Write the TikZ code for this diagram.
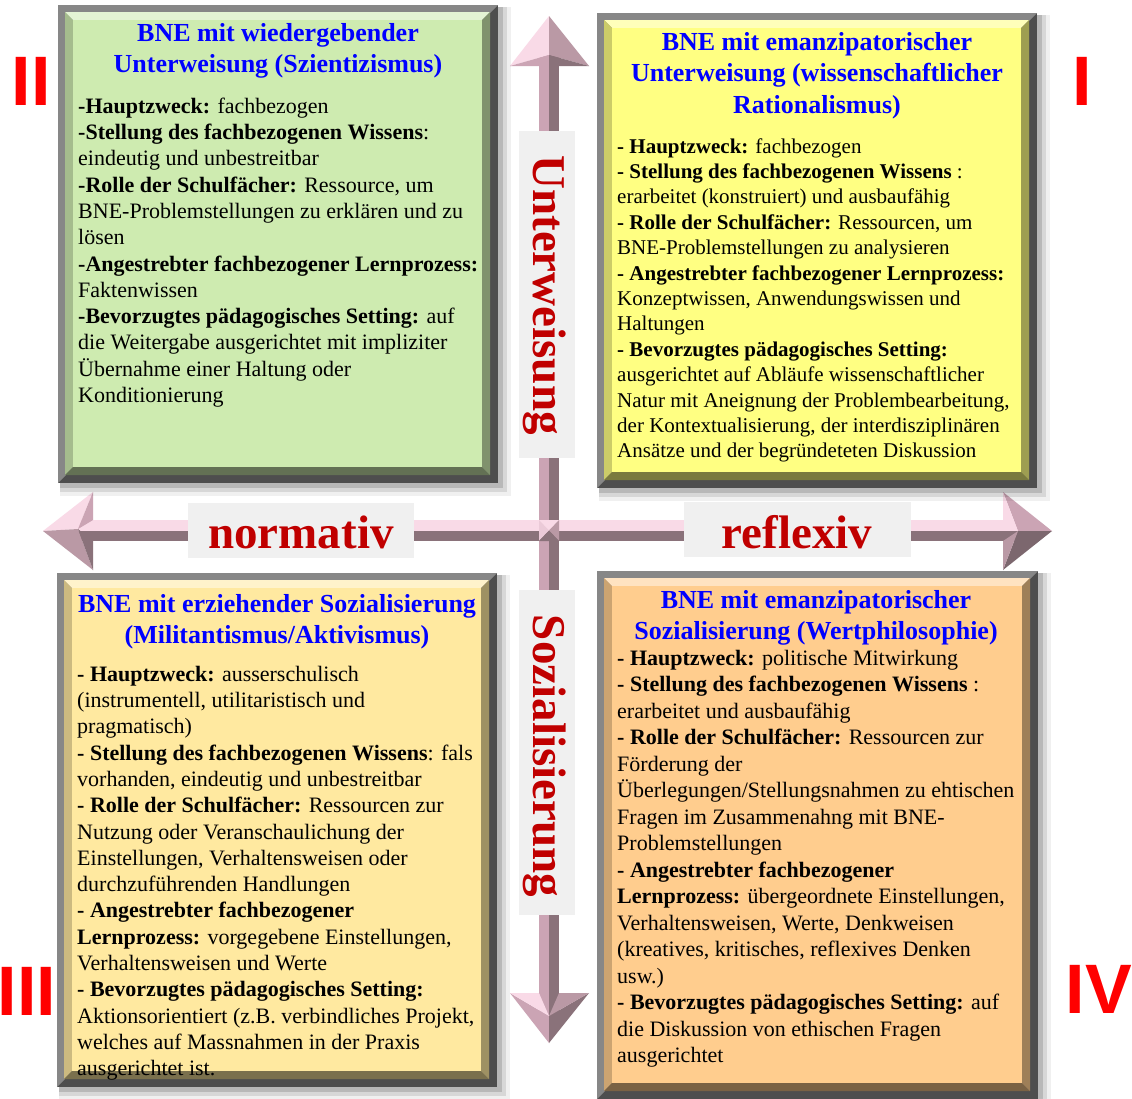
\documentclass[tikz,border=0pt]{standalone}
\usepackage{fontspec}
\setmainfont{Liberation Serif}
\newfontfamily\numfont{Liberation Sans}
\definecolor{framelight}{RGB}{135,135,135}
\definecolor{framedark}{RGB}{78,78,78}
\definecolor{fillII}{RGB}{206,235,176}
\definecolor{fillI}{RGB}{255,255,130}
\definecolor{fillIII}{RGB}{255,233,160}
\definecolor{fillIV}{RGB}{255,205,142}
\definecolor{titleblue}{RGB}{0,0,255}
\definecolor{labred}{RGB}{192,0,0}
\definecolor{numred}{RGB}{255,0,0}
\definecolor{labgray}{RGB}{240,240,240}
\definecolor{apink}{RGB}{249,218,231}
\definecolor{amauve}{RGB}{203,164,180}
\definecolor{amid}{RGB}{186,153,165}
\definecolor{adark}{RGB}{138,114,122}
\newcommand{\bevbox}[5]{%
  \fill[black,opacity=0.06] ({#1+2},{#2+2}) rectangle ({#3+13},{#4+13});
  \fill[black,opacity=0.10] ({#1+2},{#2+2}) rectangle ({#3+9},{#4+9});
  \fill[black,opacity=0.14] ({#1+2},{#2+2}) rectangle ({#3+5},{#4+5});
  \fill[framedark] (#1,#2) rectangle (#3,#4);
  \fill[framelight] (#1,#4) -- (#1,#2) -- (#3,#2) -- ({#3-8},{#2+8}) -- ({#1+8},{#4-8}) -- cycle;
  \fill[#5!55!white] ({#1+7},{#2+7}) -- ({#3-8},{#2+7}) -- ({#3-16},{#2+15}) -- ({#1+15},{#2+15}) -- cycle;
  \fill[#5!80!black] ({#1+7},{#2+7}) -- ({#1+15},{#2+15}) -- ({#1+15},{#4-16}) -- ({#1+7},{#4-8}) -- cycle;
  \fill[#5!48!black] ({#1+7},{#4-8}) -- ({#1+15},{#4-16}) -- ({#3-16},{#4-16}) -- ({#3-8},{#4-8}) -- cycle;
  \fill[#5!62!black] ({#3-8},{#2+7}) -- ({#3-8},{#4-8}) -- ({#3-16},{#4-16}) -- ({#3-16},{#2+15}) -- cycle;
  \fill[#5] ({#1+15},{#2+15}) rectangle ({#3-16},{#4-16});
}
\begin{document}
\begin{tikzpicture}[x=1pt,y=-1pt,
  title/.style={anchor=north,align=center,inner sep=0pt,text=titleblue,
    font=\fontsize{26}{31.5}\selectfont\bfseries},
  body/.style={anchor=north west,align=left,inner sep=0pt,text=black,
    font=\fontsize{22}{26.3}\selectfont},
  bodyI/.style={anchor=north west,align=left,inner sep=0pt,text=black,
    font=\fontsize{21}{25.4}\selectfont},
  bodyIV/.style={anchor=north west,align=left,inner sep=0pt,text=black,
    font=\fontsize{22}{26.5}\selectfont},
  axislab/.style={inner sep=0pt,text=labred,font=\fontsize{47}{56}\selectfont\bfseries},
  labbox/.style={fill=labgray},
  roman/.style={anchor=base,inner sep=0pt,text=numred,font=\numfont\fontsize{70}{84}\selectfont\bfseries}]
\useasboundingbox (0,0) rectangle (1132,1098);
\fill[white] (0,0) rectangle (1132,1098);

% ---- axes (3D arrows) ----
% horizontal shaft
\fill[apink] (78,520) rectangle (1018,530.5);
\fill[adark] (78,530.5) rectangle (1018,541);
% vertical shaft
\fill[amauve] (539,55) rectangle (549,520);
\fill[adark] (549,55) rectangle (559,520);
\fill[amauve] (539,541) rectangle (549,1016);
\fill[adark] (549,541) rectangle (559,1016);
% crossing
\fill[apink] (539,520) -- (559,520) -- (549,530.5) -- cycle;
\fill[apink!70!amauve] (539,520) -- (549,530.5) -- (539,541) -- cycle;
\fill[amid] (559,520) -- (549,530.5) -- (559,541) -- cycle;
\fill[adark] (539,541) -- (549,530.5) -- (559,541) -- cycle;
% top head
\fill[apink] (549,16) -- (510,66) -- (549,55) -- cycle;
\fill[amid] (549,16) -- (549,55) -- (589,66) -- cycle;
\fill[amauve] (510,66) -- (539,66) -- (549,55) -- cycle;
\fill[adark] (589,66) -- (559,66) -- (549,55) -- cycle;
% bottom head
\fill[amauve] (510,993) -- (549,1016) -- (549,1043) -- cycle;
\fill[adark] (589,993) -- (549,1016) -- (549,1043) -- cycle;
\fill[apink] (510,993) -- (539,993) -- (549,1016) -- cycle;
\fill[amid] (589,993) -- (559,993) -- (549,1016) -- cycle;
% left head
\fill[apink] (43,531) -- (93,492) -- (78,529) -- cycle;
\fill[amid] (43,531) -- (78,529) -- (93,570) -- cycle;
\fill[amauve] (93,492) -- (93,520) -- (78,529) -- cycle;
\fill[adark] (93,570) -- (93,541) -- (78,529) -- cycle;
% right head
\fill[amauve] (1003,492) -- (1052,531) -- (1018,531) -- cycle;
\fill[adark!90!black] (1003,570) -- (1052,531) -- (1018,531) -- cycle;
\fill[apink] (1003,492) -- (1003,520) -- (1018,531) -- cycle;
\fill[amid] (1003,570) -- (1003,541) -- (1018,531) -- cycle;

% ---- axis labels ----
\fill[labgray] (188,503) rectangle (414,558);
\node[axislab,anchor=base] (normativ) at (301,548) {normativ};
\fill[labgray] (684,502) rectangle (911,557);
\node[axislab,anchor=base] (reflexiv) at (797,548) {reflexiv};
\fill[labgray] (519,131) rectangle (575,458);
\node[axislab,rotate=-90] (unterw) at (545,295) {Unterweisung};
\fill[labgray] (519,590) rectangle (575,915);
\node[axislab,rotate=-90] (sozial) at (545,756) {Sozialisierung};

% ---- boxes ----
\bevbox{58}{5}{498}{483}{fillII}
\bevbox{597}{13}{1037}{488}{fillI}
\bevbox{57}{573}{497}{1087}{fillIII}
\bevbox{597}{571}{1038}{1099}{fillIV}

% ---- box II ----
\node[title] (titleII) at (278,19) {\strut BNE mit wiedergebender\\Unterweisung (Szientizismus)};
\node[body] (bodyII) at (78,94.6) {\strut\textbf{-Hauptzweck:} fachbezogen\\
\textbf{-Stellung des fachbezogenen Wissens}:\\
eindeutig und unbestreitbar\\
\textbf{-Rolle der Schulfächer:} Ressource, um\\
BNE-Problemstellungen zu erklären und zu\\
lösen\\
\textbf{-Angestrebter fachbezogener Lernprozess:}\\
Faktenwissen\\
\textbf{-Bevorzugtes pädagogisches Setting:} auf\\
die Weitergabe ausgerichtet mit impliziter\\
Übernahme einer Haltung oder\\
Konditionierung};

% ---- box I ----
\node[title] (titleI) at (817,28) {\strut BNE mit emanzipatorischer\\Unterweisung (wissenschaftlicher\\Rationalismus)};
\node[bodyI] (bodyI) at (617,135.2) {\strut\textbf{- Hauptzweck:} fachbezogen\\
\textbf{- Stellung des fachbezogenen Wissens} :\\
erarbeitet (konstruiert) und ausbaufähig\\
\textbf{- Rolle der Schulfächer:} Ressourcen, um\\
BNE-Problemstellungen zu analysieren\\
\textbf{- Angestrebter fachbezogener Lernprozess:}\\
Konzeptwissen, Anwendungswissen und\\
Haltungen\\
\textbf{- Bevorzugtes pädagogisches Setting:}\\
ausgerichtet auf Abläufe wissenschaftlicher\\
Natur mit Aneignung der Problembearbeitung,\\
der Kontextualisierung, der interdisziplinären\\
Ansätze und der begründeteten Diskussion};

% ---- box III ----
\node[title] (titleIII) at (277,590) {\strut BNE mit erziehender Sozialisierung\\(Militantismus/Aktivismus)};
\node[body] (bodyIII) at (77,662.6) {\strut\textbf{- Hauptzweck:} ausserschulisch\\
(instrumentell, utilitaristisch und\\
pragmatisch)\\
\textbf{- Stellung des fachbezogenen Wissens}: fals\\
vorhanden, eindeutig und unbestreitbar\\
\textbf{- Rolle der Schulfächer:} Ressourcen zur\\
Nutzung oder Veranschaulichung der\\
Einstellungen, Verhaltensweisen oder\\
durchzuführenden Handlungen\\
\textbf{- Angestrebter fachbezogener}\\
\textbf{Lernprozess:} vorgegebene Einstellungen,\\
Verhaltensweisen und Werte\\
\textbf{- Bevorzugtes pädagogisches Setting:}\\
Aktionsorientiert (z.B. verbindliches Projekt,\\
welches auf Massnahmen in der Praxis\\
ausgerichtet ist.};

% ---- box IV ----
\node[title] (titleIV) at (816,586) {\strut BNE mit emanzipatorischer\\Sozialisierung (Wertphilosophie)};
\node[bodyIV] (bodyIV) at (617,646.5) {\strut\textbf{- Hauptzweck:} politische Mitwirkung\\
\textbf{- Stellung des fachbezogenen Wissens} :\\
erarbeitet und ausbaufähig\\
\textbf{- Rolle der Schulfächer:} Ressourcen zur\\
Förderung der\\
Überlegungen/Stellungsnahmen zu ehtischen\\
Fragen im Zusammenahng mit BNE-\\
Problemstellungen\\
\textbf{- Angestrebter fachbezogener}\\
\textbf{Lernprozess:} übergeordnete Einstellungen,\\
Verhaltensweisen, Werte, Denkweisen\\
(kreatives, kritisches, reflexives Denken\\
usw.)\\
\textbf{- Bevorzugtes pädagogisches Setting:} auf\\
die Diskussion von ethischen Fragen\\
ausgerichtet};

% ---- roman numerals ----
\node[roman] (numII) at (31,105) {II};
\node[roman] (numI) at (1082,105) {I};
\node[roman] (numIII) at (27,1015) {III};
\node[roman] (numIV) at (1099,1013) {IV};
\end{tikzpicture}
\end{document}
